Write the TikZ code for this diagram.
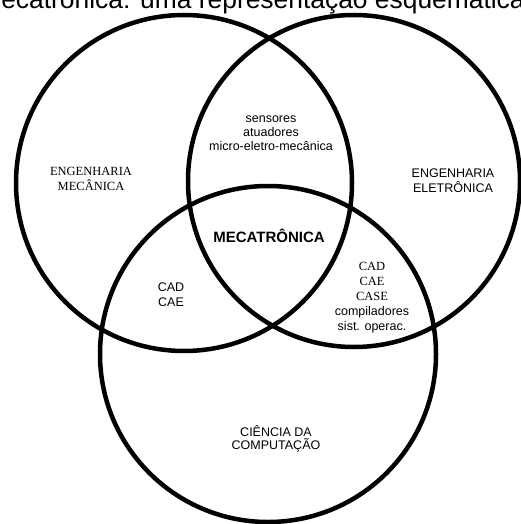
\documentclass[tikz,border=0pt]{standalone}
\usepackage{fontspec}
\setmainfont{Liberation Serif}
\setsansfont{Liberation Sans}
\begin{document}
\begin{tikzpicture}[
  % GLOBAL CFG
  x=1pt, y=-1pt,
  font=\sffamily\fontsize{12.5}{14.5}\selectfont,
  % Styles
  ring/.style={% For the three big circles
      circle,
      draw,
      line width=4.5pt,
      inner sep=0pt,
      },
  area/.style={% For the texts inside the circles
      align=center,
      inner sep=0pt,
      },
  areaserif/.style={% Same, in the serif face
      area,
      font=\rmfamily\fontsize{12.5}{15}\selectfont,
      },
  core/.style={% For the centre
      inner sep=0pt,
      font=\sffamily\bfseries\fontsize{15}{18}\selectfont,
      },
  title/.style={% Heading, cut at the top
      inner sep=0pt,
      font=\sffamily\fontsize{26.4}{32}\selectfont,
      },
  ]

  \useasboundingbox (0,0) rectangle (520,524);

  % Draw the circles:
  \node [ring, minimum size=336pt] (mec) at (184,183) {};
  \node [ring, minimum size=332pt] (ele) at (354,181) {};
  \node [ring, minimum size=336pt] (comp) at (268,354) {};

  \node [title, anchor=base] (head) at (252,9) {Mecatrônica: uma representação esquemática};

  \node [areaserif] (mecname) at (91,179) {ENGENHARIA\\MECÂNICA};
  \node [area, font=\sffamily\fontsize{12.5}{14}\selectfont] (mecele) at (271,133) {sensores\\atuadores\\micro-eletro-mecânica};
  \node [area, font=\sffamily\fontsize{12.5}{15}\selectfont] (elename) at (453,181) {ENGENHARIA\\ELETRÔNICA};
  \node [core, anchor=base] (mecatr) at (269,242) {MECATRÔNICA};
  \node [area, font=\sffamily\fontsize{12.5}{15}\selectfont] (meccomp) at (171,295) {CAD\\CAE};
  \node [area, font=\sffamily\fontsize{12.5}{15}\selectfont] (elecomp) at (372,298)
      {{\rmfamily CAD}\\{\rmfamily CAE}\\{\rmfamily CASE}\\compiladores\\sist. operac.};
  \node [area, font=\sffamily\fontsize{12.5}{13}\selectfont] (compname) at (276,439) {CIÊNCIA DA\\COMPUTAÇÃO};

\end{tikzpicture}
\end{document}
